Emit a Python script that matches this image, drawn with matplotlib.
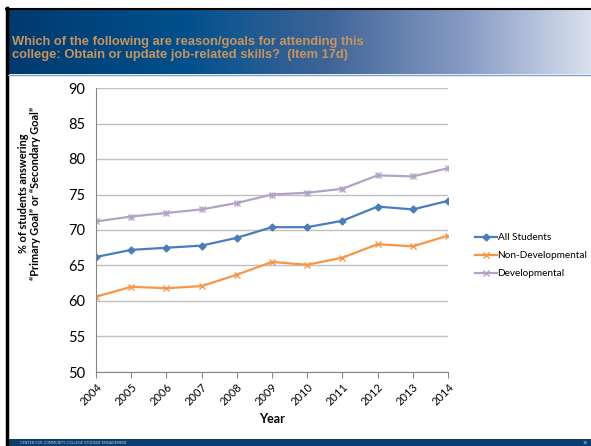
import matplotlib.pyplot as plt
import numpy as np
from matplotlib.colors import LinearSegmentedColormap

years = [2004, 2005, 2006, 2007, 2008, 2009, 2010, 2011, 2012, 2013, 2014]
all_students = [66.2, 67.2, 67.5, 67.8, 68.9, 70.4, 70.4, 71.3, 73.3, 72.9, 74.1]
non_dev = [60.6, 62.0, 61.8, 62.1, 63.7, 65.5, 65.1, 66.1, 68.0, 67.7, 69.2]
dev = [71.2, 71.9, 72.4, 72.9, 73.8, 75.0, 75.25, 75.8, 77.7, 77.55, 78.7]

title = ("Which of the following are reason/goals for attending this\n"
         "college: Obtain or update job-related skills?  (Item 17d)")

W, H = 591, 446
fig = plt.figure(figsize=(W / 100, H / 100), dpi=100)

# header band with gradient
hdr = fig.add_axes([8 / W, 1 - 74 / H, 1 - 8 / W, 65 / H])
cmap = LinearSegmentedColormap.from_list(
    "hdr", [(0, "#003a6e"), (0.3, "#00508c"), (0.55, "#3f6598"),
            (0.8, "#8c9fc6"), (1, "#d9e0ed")])
hdr.imshow(np.linspace(0, 1, 256)[None, :], aspect="auto", cmap=cmap,
           extent=[0, 1, 0, 1])
hdr.set_axis_off()
hdr.text(0.007, 0.39, title, transform=hdr.transAxes, color="#c8955e",
         fontsize=9.3, fontweight="bold", family="Liberation Sans",
         va="center", ha="left", linespacing=1.1)

# black frame lines: top and left
fig.add_artist(plt.Line2D([6 / W, 1], [1 - 8.5 / H, 1 - 8.5 / H], color="black", lw=1.5))
fig.add_artist(plt.Line2D([7 / W, 7 / W], [0, 1 - 8 / H], color="black", lw=2.5))
fig.add_artist(plt.Line2D([8 / W, 1], [1 - 75 / H, 1 - 75 / H], color="#7da2cc", lw=1))

# bottom band
bot = fig.add_axes([8 / W, 0, 1 - 8 / W, 7 / H])
bot.set_facecolor("#0b3d6e")
bot.set_xticks([])
bot.set_yticks([])
for s in bot.spines.values():
    s.set_visible(False)
bot.text(0.02, 0.5, "CENTER FOR COMMUNITY COLLEGE STUDENT ENGAGEMENT",
         transform=bot.transAxes, color="#c0cce0", fontsize=2.5, va="center")
bot.text(0.995, 0.5, "18", transform=bot.transAxes, color="#c0cce0",
         fontsize=3, va="center", ha="right")

# main chart
ax = fig.add_axes([96 / W, 1 - 372 / H, (448 - 96) / W, (372 - 88) / H])
ax.plot(years, all_students, color="#4a7ebb", lw=1.6, marker="D", ms=3.5,
        label="All Students")
ax.plot(years, non_dev, color="#f79646", lw=1.6, marker="x", ms=4.5, mew=1,
        label="Non-Developmental")
ax.plot(years, dev, color="#b3a2c7", lw=1.6, marker="x", ms=4.5, mew=1,
        label="Developmental")
ax.plot(years, dev, color="#b3a2c7", lw=0, marker="+", ms=4.5, mew=1)

ax.set_xlim(2004, 2014)
ax.set_ylim(50, 90)
ax.set_yticks(range(50, 91, 5))
ax.set_xticks(years)
ax.set_xticklabels([str(y) for y in years], rotation=45, ha="right",
                   rotation_mode="anchor", fontsize=8, family="Lato")
ax.tick_params(axis="x", direction="out", length=4, color="#868686", pad=3)
ax.tick_params(axis="y", length=0, labelsize=10.5, pad=8)
for lab in ax.get_yticklabels():
    lab.set_family("Lato")
ax.grid(axis="y", color="#c0c0c0", lw=1)
ax.set_axisbelow(True)
for s in ["top", "right"]:
    ax.spines[s].set_visible(False)
for s in ["left", "bottom"]:
    ax.spines[s].set_color("#868686")

ax.set_xlabel("Year", fontsize=9, fontweight="bold", family="Lato", labelpad=4)
ax.set_ylabel("% of students answering\n\u201cPrimary Goal\u201d or \u201cSecondary Goal\u201d",
              fontsize=7.9, fontweight="bold", family="Lato",
              linespacing=1.1)
ax.yaxis.set_label_coords(-0.157, 0.628)

ax.legend(loc="center left", bbox_to_anchor=(1.05, 0.41), frameon=False,
          prop={"family": "Lato", "size": 7.2}, handlelength=2.2,
          handletextpad=0.1, labelspacing=0.9)

fig.savefig("out.png", dpi=100)
